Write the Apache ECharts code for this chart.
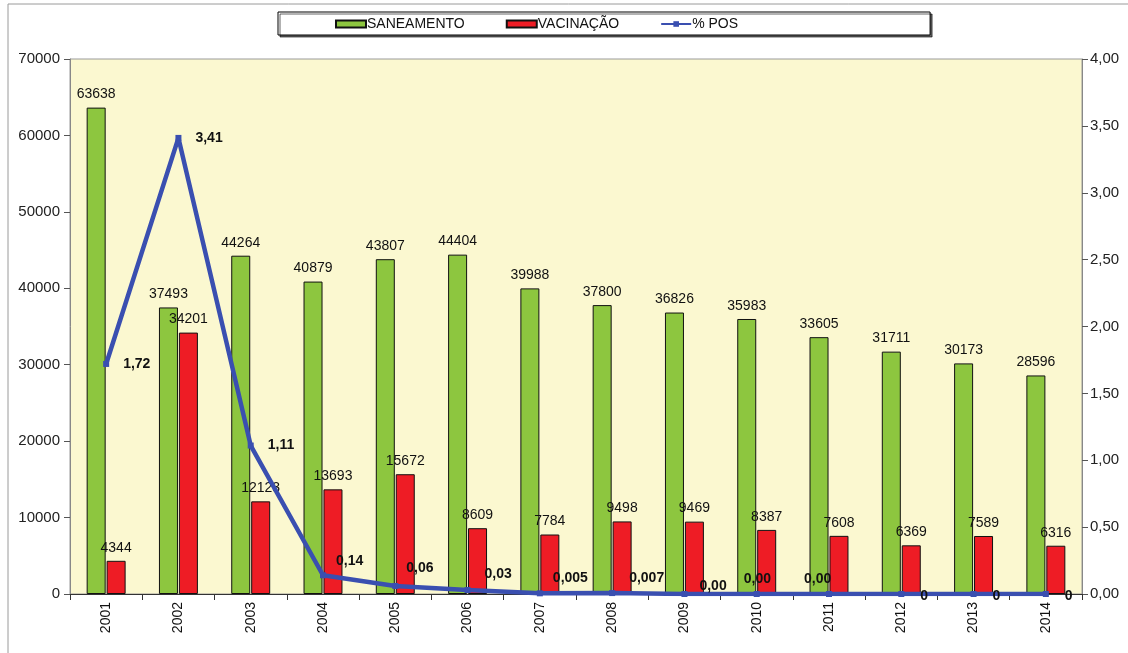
<!DOCTYPE html>
<html>
<head>
<meta charset="utf-8">
<script src="https://cdn.jsdelivr.net/npm/echarts@6/dist/echarts.min.js"></script>
<style>
  html, body { margin: 0; padding: 0; background: #fff; }
  #chart { width: 1128px; height: 653px; }
</style>
</head>
<body>
<div id="chart"></div>
<script>
const years = ['2001', '2002', '2003', '2004', '2005', '2006', '2007', '2008', '2009', '2010', '2011', '2012', '2013', '2014']
const saneamento = [63638, 37493, 44264, 40879, 43807, 44404, 39988, 37800, 36826, 35983, 33605, 31711, 30173, 28596]
const vacinacao = [4344, 34201, 12123, 13693, 15672, 8609, 7784, 9498, 9469, 8387, 7608, 6369, 7589, 6316]
const pos = [1.72, 3.41, 1.11, 0.14, 0.06, 0.03, 0.005, 0.007, 0, 0, 0, 0, 0, 0]
const posLabels = ['1,72', '3,41', '1,11', '0,14', '0,06', '0,03', '0,005', '0,007', '0,00', '0,00', '0,00', '0', '0', '0']

// label nudges for the % POS points (pixels, relative to position 'right')
const posLabelOffset = [
  [2, 0], [2, 0], [2, 0], [-2, -14], [-4, -18], [2, -16], [-2, -15],
  [2, -15], [0, -8], [-28, -15], [-40, -15], [4, 2], [4, 2], [4, 2]
]

const chart = echarts.init(document.getElementById('chart'))

const textFont = 'Liberation Sans'

const posData = pos.map((v, i) => ({
  value: v,
  label: { offset: posLabelOffset[i] }
}))

const option = {
  backgroundColor: '#fff',
  textStyle: { fontFamily: textFont },
  graphic: [
    {
      type: 'rect',
      shape: { x: 8, y: 4, width: 1130, height: 660 },
      style: { fill: 'none', stroke: '#9a9a9a', lineWidth: 1 },
      silent: true
    }
  ],
  legend: {
    left: 278,
    top: 12,
    padding: [5, 192, 4, 57],
    itemGap: 41,
    itemWidth: 30,
    itemHeight: 7,
    backgroundColor: '#fff',
    borderColor: '#000',
    borderWidth: 1,
    shadowColor: 'rgba(0,0,0,0.6)',
    shadowOffsetX: 2,
    shadowOffsetY: 2,
    textStyle: { fontSize: 14, color: '#111', fontFamily: textFont, padding: [0, 0, 0, -4] },
    data: [
      { name: 'SANEAMENTO', icon: 'rect' },
      { name: 'VACINAÇÃO', icon: 'rect' },
      { name: '% POS' }
    ]
  },
  grid: {
    left: 70,
    right: 46,
    top: 59,
    bottom: 59,
    show: true,
    backgroundColor: '#fbf8d0',
    borderColor: '#9a9a9a',
    borderWidth: 1
  },
  xAxis: {
    type: 'category',
    data: years,
    axisLine: { lineStyle: { color: '#333', width: 1 } },
    axisTick: { show: true, length: 6, lineStyle: { color: '#333' } },
    axisLabel: { rotate: 90, fontSize: 14, color: '#111', margin: 8 }
  },
  yAxis: [
    {
      type: 'value',
      min: 0,
      max: 70000,
      interval: 10000,
      splitLine: { show: false },
      axisLine: { show: true, lineStyle: { color: '#888' } },
      axisTick: { show: true, length: 6, lineStyle: { color: '#555' } },
      axisLabel: { fontSize: 15, color: '#222', margin: 10, formatter: v => String(v) }
    },
    {
      type: 'value',
      min: 0,
      max: 4,
      interval: 0.5,
      splitLine: { show: false },
      axisLine: { show: true, lineStyle: { color: '#888' } },
      axisTick: { show: true, length: 6, lineStyle: { color: '#555' } },
      axisLabel: {
        fontSize: 15,
        color: '#222',
        margin: 8,
        formatter: v => v.toFixed(2).replace('.', ',')
      }
    }
  ],
  series: [
    {
      name: 'SANEAMENTO',
      type: 'bar',
      data: saneamento,
      barWidth: 19,
      barGap: '5%',
      itemStyle: { color: '#8dc63f', borderColor: '#111', borderWidth: 1 },
      label: { show: true, position: 'top', fontSize: 14, color: '#111', distance: 6 }
    },
    {
      name: 'VACINAÇÃO',
      type: 'bar',
      data: vacinacao,
      barWidth: 19,
      itemStyle: { color: '#ee1c25', borderColor: '#111', borderWidth: 1 },
      label: { show: true, position: 'top', fontSize: 14, color: '#111', distance: 6 }
    },
    {
      name: '% POS',
      type: 'line',
      yAxisIndex: 1,
      data: posData,
      symbol: 'rect',
      symbolSize: 6,
      lineStyle: { color: '#3a4fb0', width: 4.5 },
      itemStyle: { color: '#3a4fb0' },
      z: 5,
      label: {
        show: true,
        position: 'right',
        distance: 12,
        fontSize: 14,
        fontWeight: 'bold',
        color: '#111',
        formatter: p => posLabels[p.dataIndex]
      }
    }
  ]
}

chart.setOption(option)
</script>
</body>
</html>
